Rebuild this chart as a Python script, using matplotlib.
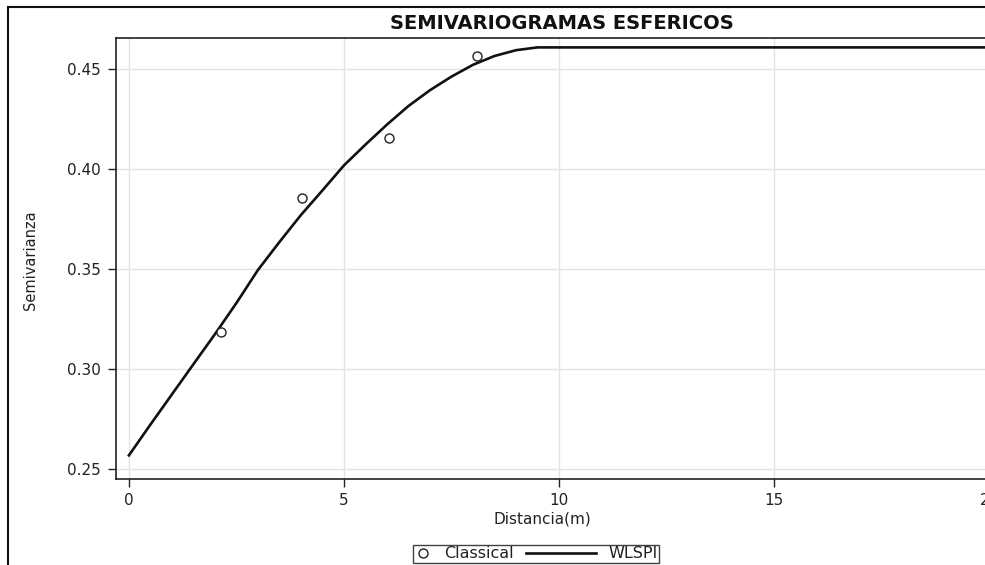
import matplotlib
matplotlib.use("Agg")
import matplotlib.pyplot as plt
from matplotlib.lines import Line2D
from matplotlib.patches import Rectangle
from matplotlib.legend_handler import HandlerLine2D

plt.rcParams['font.family'] = ['DejaVu Sans']

# Semivariograma experimental (Classical)
dist_cls = [2.13, 4.02, 6.04, 8.09]
gamma_cls = [0.3187, 0.3855, 0.4154, 0.4567]

# Modelo esferico ajustado (WLSPI)
dist_fit = [0, 0.5, 1, 1.5, 2, 2.5, 3, 3.5, 4, 4.5, 5, 5.5, 6, 6.5, 7,
            7.5, 8, 8.5, 9, 9.5, 10, 20]
gamma_fit = [0.2568, 0.2722, 0.2873, 0.3024, 0.3174, 0.3330, 0.3495,
             0.3635, 0.3770, 0.3893, 0.4018, 0.4122, 0.4222, 0.4315,
             0.4394, 0.4462, 0.4521, 0.4565, 0.4594, 0.4608, 0.4608, 0.4608]

xticks = [0, 5, 10, 15, 20]
yticks = [0.25, 0.30, 0.35, 0.40, 0.45]


class LongLine(HandlerLine2D):
    # linea de leyenda que se extiende hacia la izquierda
    def create_artists(self, legend, orig_handle, xdescent, ydescent,
                       width, height, fontsize, trans):
        extra = (legend.columnspacing - 0.8) * fontsize
        y = (height - ydescent) / 2
        ln = Line2D([-xdescent - extra, width - xdescent], [y, y],
                    color=orig_handle.get_color(),
                    lw=orig_handle.get_linewidth())
        ln.set_transform(trans)
        return [ln]


W, H = 985, 565
fig = plt.figure(figsize=(W / 100, H / 100), dpi=100)
ax = fig.add_axes([116 / W, 1 - 479 / H, 886 / W, 441 / H])

cls, = ax.plot(dist_cls, gamma_cls, 'o', mfc='white', mec='#222222',
               ms=6.5, mew=1.0, label='Classical', zorder=3)
fit, = ax.plot(dist_fit, gamma_fit, '-', color='#111111', lw=1.9,
               label='WLSPI', zorder=2)

ax.set_xlim(-0.3, 20.3)
ax.set_ylim(0.245, 0.4655)
ax.set_xticks(xticks)
ax.set_yticks(yticks)
ax.set_xticklabels([str(v) for v in xticks])
ax.set_yticklabels(['%.2f' % v for v in yticks])
ax.tick_params(labelsize=11, length=6, width=1, color='#222222',
               labelcolor='#222222')
ax.tick_params(axis='x', pad=4)
ax.tick_params(axis='y', pad=5)
ax.grid(True, color='#e3e3e3', lw=1)
ax.set_axisbelow(True)
for s in ax.spines.values():
    s.set_color('#222222')
    s.set_linewidth(1.2)

# marco exterior
fig.patches.append(Rectangle((8 / W, -0.1), 1.2, 1.1 - 7 / H,
                             transform=fig.transFigure, fill=False,
                             edgecolor='#111111', lw=1.5))

fig.text(562 / W, 1 - 29 / H, 'SEMIVARIOGRAMAS ESFERICOS', ha='center',
         va='baseline', fontsize=14, fontweight='bold', color='#111111')
fig.text(542 / W, 1 - 523.5 / H, 'Distancia(m)', ha='center',
         va='baseline', fontsize=11, color='#222222')
fig.text(30 / W, 1 - 260 / H, 'Semivarianza', rotation=90, ha='center',
         va='center', fontsize=10.5, color='#222222')

leg = fig.legend(handles=[cls, fit], labels=['Classical', 'WLSPI'],
                 loc='upper left', bbox_to_anchor=(413 / W, 1 - 545 / H),
                 bbox_transform=fig.transFigure, borderaxespad=0,
                 ncol=2, fontsize=11.5, frameon=True, fancybox=False,
                 borderpad=0.08, handlelength=1.1, handletextpad=0.76,
                 columnspacing=4.06, numpoints=1,
                 handler_map={fit: LongLine()})
leg.get_frame().set_edgecolor('#111111')
leg.get_frame().set_linewidth(1.0)
for t in leg.get_texts():
    t.set_color('#222222')

fig.savefig('out.png', dpi=100)
